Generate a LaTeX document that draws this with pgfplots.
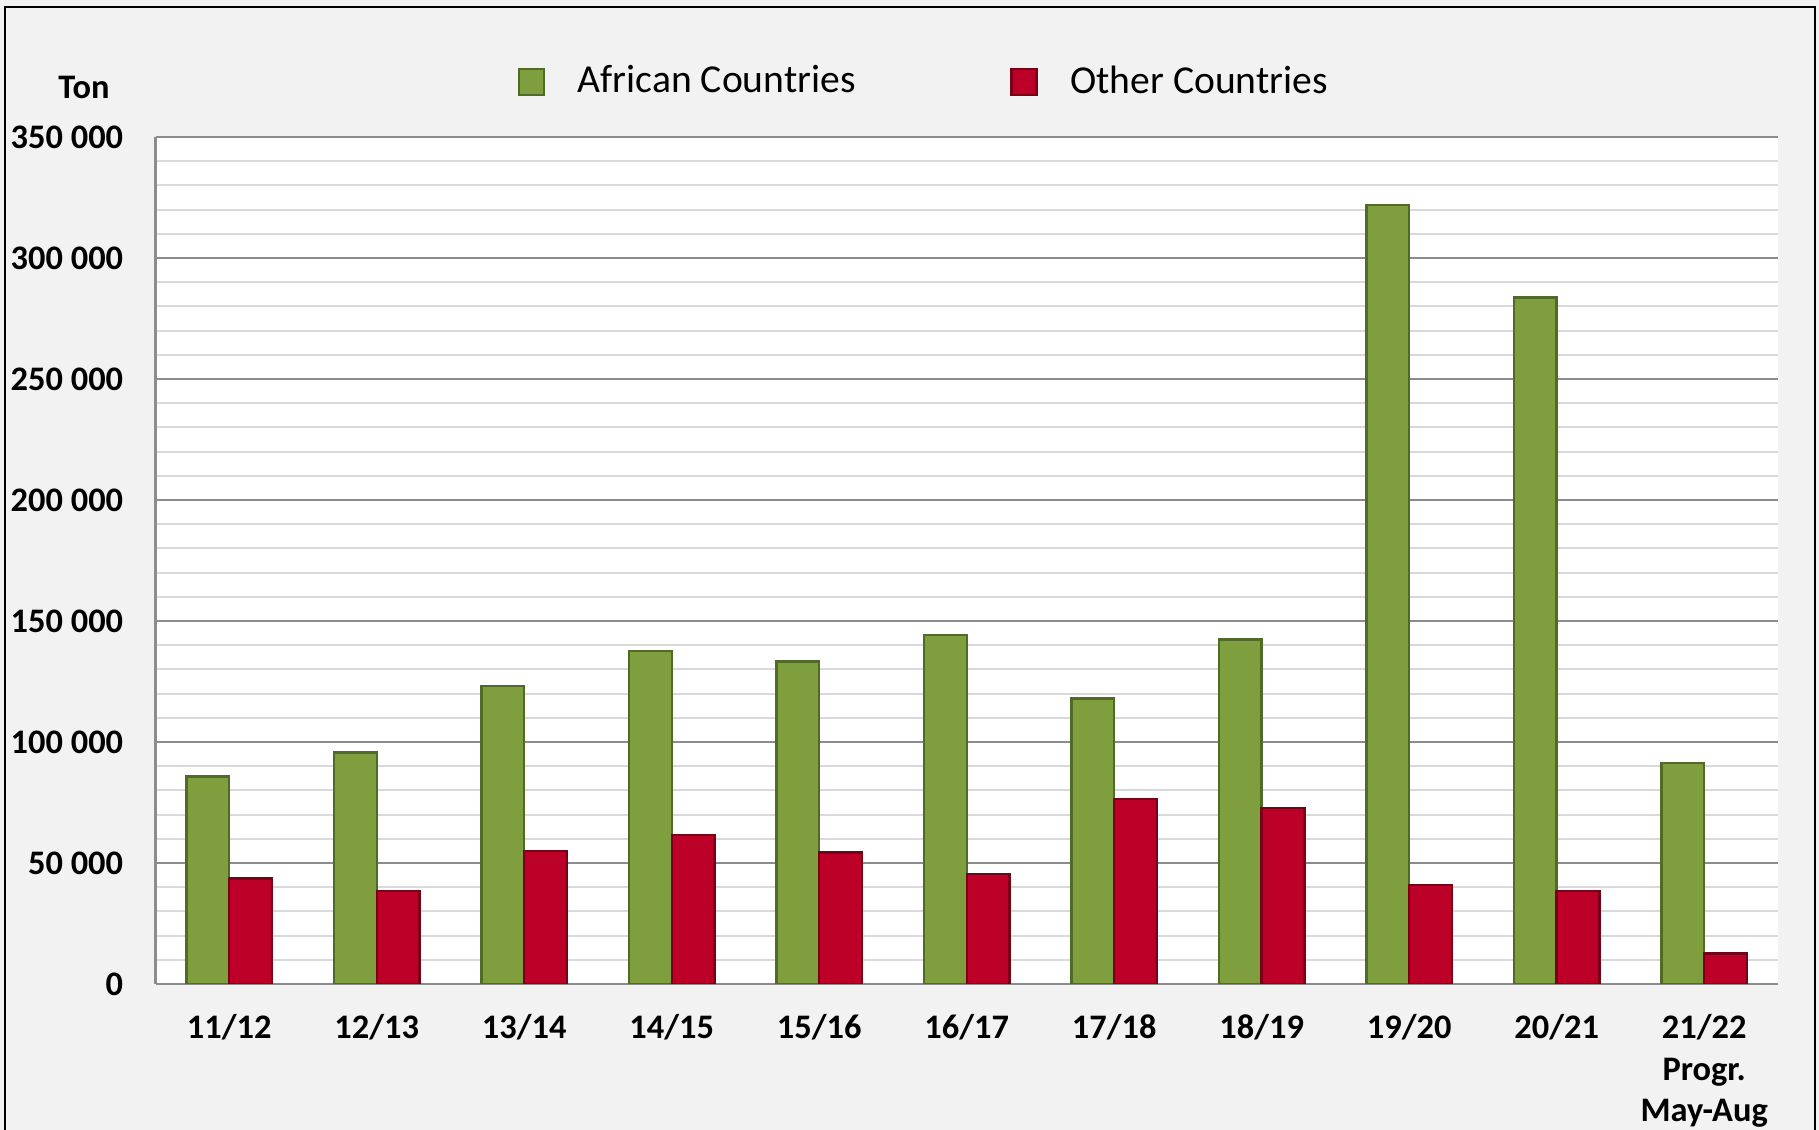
\documentclass[border=0pt]{standalone}
\usepackage{pgfplots}
\pgfplotsset{compat=1.18}
\usepackage{pgfplotstable}
\usepackage{fontspec}
\setmainfont{Carlito}
\definecolor{bg}{HTML}{F2F2F2}
\definecolor{grn}{HTML}{7F9F3F}
\definecolor{grnd}{HTML}{4F6B26}
\definecolor{rd}{HTML}{BC0028}
\definecolor{rdd}{HTML}{7A0018}
\definecolor{majg}{HTML}{8C8C8C}
\definecolor{ming}{HTML}{D9D9D9}
\pgfplotstableread{
x afr oth
0 85800 43600
1 95600 38400
2 123200 55000
3 137600 61600
4 133300 54400
5 144300 45500
6 117900 76500
7 142400 72800
8 321800 40800
9 283600 38500
10 91200 12600
}\datatable
\begin{document}
\begin{tikzpicture}
\fill[bg] (-38.875pt,-36.5pt) rectangle (415.875pt,246pt);
\draw[black, line width=0.6pt] (-37.625pt,-40pt) -- (-37.625pt,244.3pt) -- (414.875pt,244.3pt) -- (414.875pt,-40pt);
\begin{axis}[
  at={(0pt,0pt)}, anchor=south west,
  scale only axis, width=405.6pt, height=211.75pt,
  ybar=0pt, bar width=10.7pt,
  xmin=-0.5, xmax=10.5, ymin=0, ymax=350000,
  enlargelimits=false,
  xtick={0,1,2,3,4,5,6,7,8,9,10},
  xticklabels={11/12,12/13,13/14,14/15,15/16,16/17,17/18,18/19,19/20,20/21,{21/22\\Progr.\\May-Aug}},
  ytick={0,50000,100000,150000,200000,250000,300000,350000},
  yticklabels={0,50 000,100 000,150 000,200 000,250 000,300 000,350 000},
  minor y tick num=4,
  ymajorgrids, yminorgrids,
  major grid style={majg, line width=0.5pt},
  minor grid style={ming, line width=0.5pt},
  axis x line*=bottom, axis y line*=left,
  axis line style={-, majg, line width=0.6pt},
  major tick length=0pt, minor tick length=0pt,
  axis background/.style={fill=white},
  tick label style={font=\bfseries\fontsize{8.6}{10.3}\selectfont},
  xticklabel style={inner sep=0pt, anchor=north, yshift=-7.5pt, align=center},
  yticklabel style={inner sep=0pt, anchor=east, xshift=-7.9pt},
  scaled y ticks=false,
  ylabel={Ton},
  ylabel style={rotate=-90, at={(axis description cs:-0.0441,1.059)}, anchor=center, font=\bfseries\fontsize{8.6}{10}\selectfont},
  legend columns=2,
  legend style={draw=none, fill=none, at={(axis description cs:0.2229,1.0646)}, anchor=west, inner sep=0pt,
    font=\fontsize{9.9}{11}\selectfont, /tikz/every even column/.append style={column sep=36.7pt}},
  legend image code/.code={\draw[#1] (0pt,-3.25pt) rectangle (6.2pt,3.25pt); \path[draw=none,fill=none] (0pt,0pt) -- (12.7pt,0pt);},
]
\addplot[fill=grn, draw=grnd, line width=0.6pt] table[x=x,y=afr]{\datatable};
\addlegendentry{African Countries}
\addplot[fill=rd, draw=rdd, line width=0.6pt] table[x=x,y=oth]{\datatable};
\addlegendentry{Other Countries}
\end{axis}
\pgfresetboundingbox
\useasboundingbox (-38.875pt,-36.5pt) rectangle (415.875pt,246pt);
\end{tikzpicture}
\end{document}
